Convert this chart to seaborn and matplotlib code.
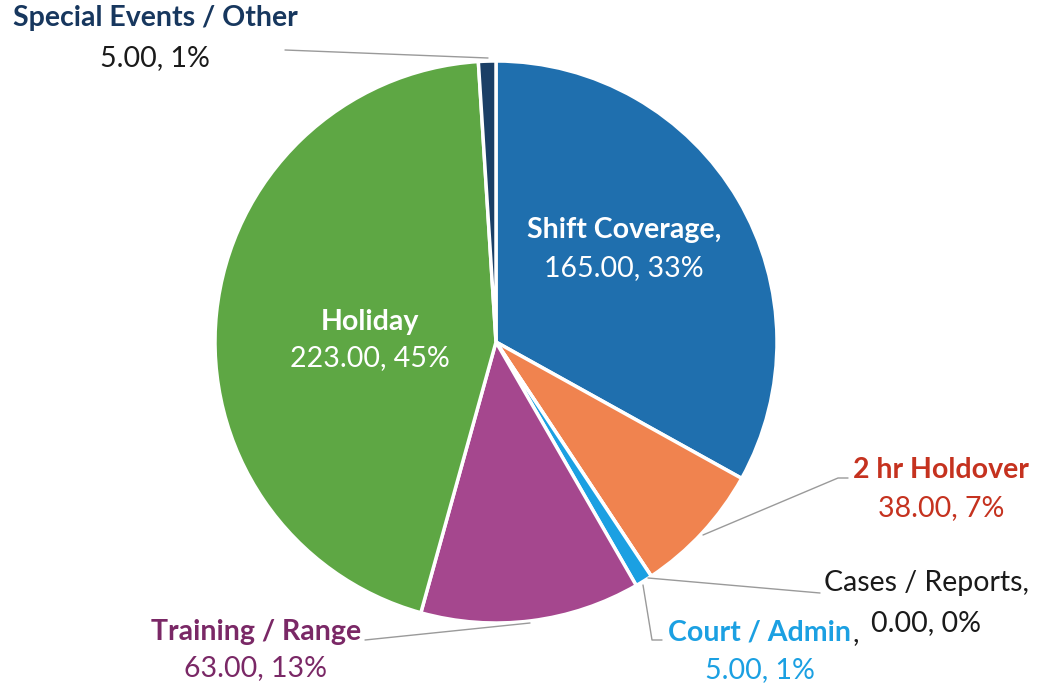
import matplotlib
matplotlib.use("Agg")
import matplotlib.pyplot as plt
import seaborn as sns

# Overtime hours by category (clockwise from 12 o'clock)
categories = ['Shift Coverage', '2 hr Holdover', 'Cases / Reports', 'Court / Admin',
              'Training / Range', 'Holiday', 'Special Events / Other']
hours = [165.00, 38.00, 0.00, 5.00, 63.00, 223.00, 5.00]
percents = [33, 7, 0, 1, 13, 45, 1]

slice_colors = ['#1F6FAE', '#F0834F', '#7F7F7F', '#1BA0E2', '#A5478E', '#5EA744', '#1B3F66']
label_colors = ['white', '#C5321F', '#1A1A1A', '#1BA0E2', '#7A2866', 'white', '#17375E']

sns.set_style("white")
plt.rcParams['font.family'] = ['Lato', 'DejaVu Sans']

W, H = 1038, 691
fig = plt.figure(figsize=(W / 100, H / 100), dpi=100)
ax = fig.add_axes([0, 0, 1, 1])

ax.pie(hours, colors=slice_colors, startangle=90, counterclock=False,
       center=(496, H - 342), radius=281,
       wedgeprops=dict(edgecolor='white', linewidth=2.5))
ax.set_xlim(0, W)
ax.set_ylim(0, H)
ax.set_aspect('auto')
ax.axis('off')

# label positions (pixel coords, name line / value line)
label_pos = [(624, 230, 268), (941, 470, 508), (926, 583, 623), (760, 633, 670),
             (256, 632, 668), (370, 322, 358), (155, 18, 58)]
fs = 20.5
renderer = fig.canvas.get_renderer()
for i, name in enumerate(categories):
    x, y1, y2 = label_pos[i]
    val = f"{hours[i]:.2f}, {percents[i]}%"
    if name == 'Cases / Reports':
        ax.text(x, H - y1, name + ',', color=label_colors[i], fontsize=fs,
                ha='center', va='center')
        ax.text(x, H - y2, val, color=label_colors[i], fontsize=fs,
                ha='center', va='center')
        continue
    if name == 'Court / Admin':
        t = ax.text(x, H - y1, name, color=label_colors[i], fontsize=fs,
                    fontweight='bold', ha='center', va='center')
        bb = t.get_window_extent(renderer)
        ax.text(bb.x1 + 1, H - y1, ',', color='#1A1A1A', fontsize=fs,
                ha='left', va='center')
    else:
        ax.text(x, H - y1, name + (',' if i == 0 else ''), color=label_colors[i],
                fontsize=fs, fontweight='bold', ha='center', va='center')
    val_color = '#1A1A1A' if name == 'Special Events / Other' else label_colors[i]
    ax.text(x, H - y2, val, color=val_color, fontsize=fs, ha='center', va='center')

# leader lines
leaders = [
    [(285, 50), (488, 58)],
    [(703, 535), (838, 478), (848, 478)],
    [(648, 578), (820, 593)],
    [(643, 585), (652, 640), (662, 640)],
    [(365, 640), (530, 623)],
]
for pts in leaders:
    xs = [p[0] for p in pts]
    ys = [H - p[1] for p in pts]
    ax.plot(xs, ys, color='#9A9A9A', linewidth=1.0)

fig.savefig('out.png', dpi=100)
